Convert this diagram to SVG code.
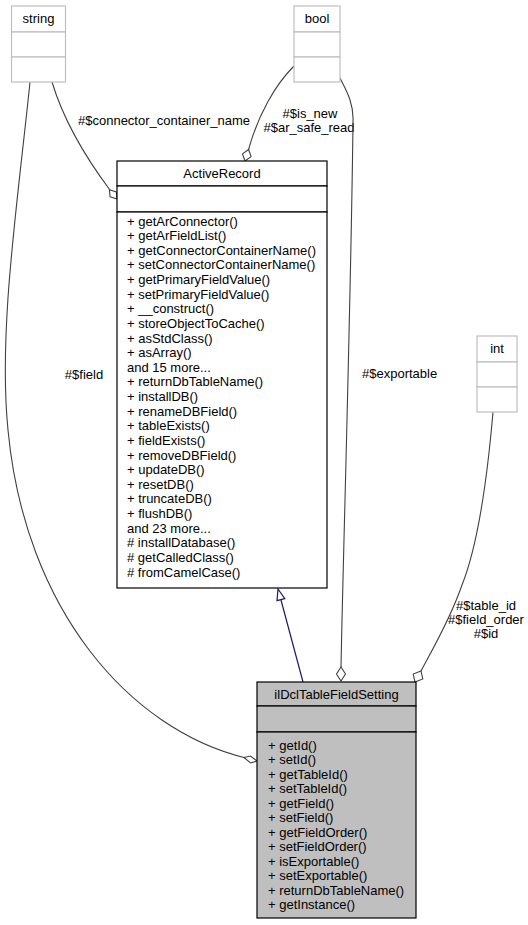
<svg xmlns="http://www.w3.org/2000/svg" width="528" height="925" viewBox="0 0 528 925">
<style>
text{font-family:"Liberation Sans",Arial,sans-serif;font-size:13px;fill:#000}
.c{text-anchor:middle}
.ext{fill:#fff;stroke:#bfbfbf;stroke-width:1.2}
.cls{fill:#fff;stroke:#000;stroke-width:1.2}
.cur{fill:#bfbfbf;stroke:#000;stroke-width:1.2}
.e{fill:none;stroke:#404040;stroke-width:1.1}
.d{fill:#fff;stroke:#404040;stroke-width:1.1}
.inh{fill:none;stroke:#191970;stroke-width:1.2}
.tri{fill:#fff;stroke:#191970;stroke-width:1.2}
</style>
<rect width="528" height="925" fill="#fff"/>
<g id="connectors">
  <!-- string -> ActiveRecord -->
  <path class="e" d="M52,82 C62,115 80,150 110,190"/>
  <polygon class="d" points="117,199 116.3,191.9 109.4,189.8 110.1,196.9"/>
  <text class="c" x="164" y="124.5">#$connector_container_name</text>
  <!-- string -> ilDcl -->
  <path class="e" d="M30,82 C18,200 -2,330 8,430 C25,610 130,730 246,758"/>
  <polygon class="d" points="257,761 250.5,756 244,757.5 250.5,763"/>
  <text class="c" x="84" y="378.5">#$field</text>
  <!-- bool -> ActiveRecord -->
  <path class="e" d="M294,66 C275,85 258,115 248.6,149.5"/>
  <polygon class="d" points="245,161 251.1,156.6 248.6,149.5 242.5,153.9"/>
  <text class="c" x="310" y="117.5">#$is_new</text>
  <text class="c" x="309" y="132">#$ar_safe_read</text>
  <!-- bool -> ilDcl -->
  <path class="e" d="M340,78 C346,90 354,103 353,122 C351,300 343,560 341,667"/>
  <polygon class="d" points="341,681 345.5,674 341,667 336.5,674"/>
  <text x="362" y="377.5">#$exportable</text>
  <!-- int -> ilDcl -->
  <path class="e" d="M493,412 C488,470 480,540 462,585 C450,620 432,650 421,671"/>
  <polygon class="d" points="415,682 422.8,679 421,671 413.2,674"/>
  <text class="c" x="486" y="609.5">#$table_id</text>
  <text class="c" x="486" y="623.5">#$field_order</text>
  <text class="c" x="486" y="637.5">#$id</text>
  <!-- inheritance -->
  <path class="inh" d="M303,682 L281,600"/>
  <polygon class="tri" points="278,589 284.8,598.6 277,600.7"/>
</g>
<g id="node-string">
  <rect class="ext" x="11.5" y="6" width="54" height="26"/>
  <rect class="ext" x="11.5" y="32" width="54" height="25"/>
  <rect class="ext" x="11.5" y="57" width="54" height="25"/>
  <text class="c" x="38.5" y="23">string</text>
</g>
<g id="node-bool">
  <rect class="ext" x="294" y="6" width="46" height="26"/>
  <rect class="ext" x="294" y="32" width="46" height="25"/>
  <rect class="ext" x="294" y="57" width="46" height="25"/>
  <text class="c" x="317" y="23">bool</text>
</g>
<g id="node-int">
  <rect class="ext" x="477" y="336" width="40" height="26"/>
  <rect class="ext" x="477" y="362" width="40" height="25"/>
  <rect class="ext" x="477" y="387" width="40" height="25"/>
  <text class="c" x="497" y="353">int</text>
</g>
<g id="node-ActiveRecord">
  <rect class="cls" x="117" y="161" width="210" height="25"/>
  <rect class="cls" x="117" y="186" width="210" height="26"/>
  <rect class="cls" x="117" y="212" width="210" height="376"/>
  <text class="c" x="222" y="178">ActiveRecord</text>
  <text x="127" y="225.5"><tspan x="127">+ getArConnector()</tspan><tspan x="127" dy="14.625">+ getArFieldList()</tspan><tspan x="127" dy="14.625">+ getConnectorContainerName()</tspan><tspan x="127" dy="14.625">+ setConnectorContainerName()</tspan><tspan x="127" dy="14.625">+ getPrimaryFieldValue()</tspan><tspan x="127" dy="14.625">+ setPrimaryFieldValue()</tspan><tspan x="127" dy="14.625">+ __construct()</tspan><tspan x="127" dy="14.625">+ storeObjectToCache()</tspan><tspan x="127" dy="14.625">+ asStdClass()</tspan><tspan x="127" dy="14.625">+ asArray()</tspan><tspan x="127" dy="14.625">and 15 more...</tspan><tspan x="127" dy="14.625">+ returnDbTableName()</tspan><tspan x="127" dy="14.625">+ installDB()</tspan><tspan x="127" dy="14.625">+ renameDBField()</tspan><tspan x="127" dy="14.625">+ tableExists()</tspan><tspan x="127" dy="14.625">+ fieldExists()</tspan><tspan x="127" dy="14.625">+ removeDBField()</tspan><tspan x="127" dy="14.625">+ updateDB()</tspan><tspan x="127" dy="14.625">+ resetDB()</tspan><tspan x="127" dy="14.625">+ truncateDB()</tspan><tspan x="127" dy="14.625">+ flushDB()</tspan><tspan x="127" dy="14.625">and 23 more...</tspan><tspan x="127" dy="14.625"># installDatabase()</tspan><tspan x="127" dy="14.625"># getCalledClass()</tspan><tspan x="127" dy="14.625"># fromCamelCase()</tspan></text>
</g>
<g id="node-ilDclTableFieldSetting">
  <rect class="cur" x="257" y="682" width="159" height="24"/>
  <rect class="cur" x="257" y="706" width="159" height="26"/>
  <rect class="cur" x="257" y="732" width="159" height="186"/>
  <text class="c" x="336.5" y="699">ilDclTableFieldSetting</text>
  <text x="268" y="749.5"><tspan x="268">+ getId()</tspan><tspan x="268" dy="14.5">+ setId()</tspan><tspan x="268" dy="14.5">+ getTableId()</tspan><tspan x="268" dy="14.5">+ setTableId()</tspan><tspan x="268" dy="14.5">+ getField()</tspan><tspan x="268" dy="14.5">+ setField()</tspan><tspan x="268" dy="14.5">+ getFieldOrder()</tspan><tspan x="268" dy="14.5">+ setFieldOrder()</tspan><tspan x="268" dy="14.5">+ isExportable()</tspan><tspan x="268" dy="14.5">+ setExportable()</tspan><tspan x="268" dy="14.5">+ returnDbTableName()</tspan><tspan x="268" dy="14.5">+ getInstance()</tspan></text>
</g>
</svg>
